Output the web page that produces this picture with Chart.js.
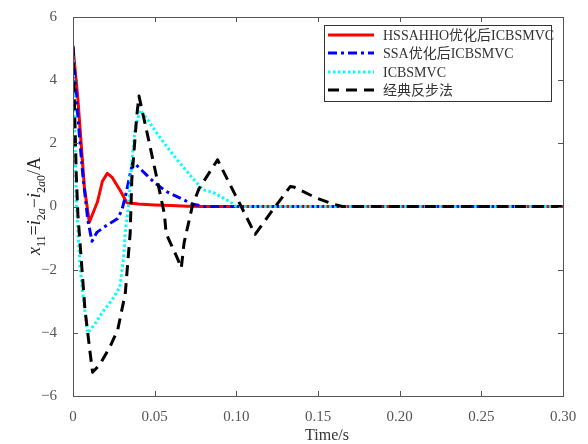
<!DOCTYPE html>
<html>
<head>
<meta charset="utf-8">
<script src="https://cdn.jsdelivr.net/npm/chart.js@4"></script>
<style>
  html, body { margin: 0; padding: 0; background: #fff; }
  #wrap { width: 588px; height: 444px; }
</style>
</head>
<body>
<div id="wrap"><canvas id="Grafica" width="588" height="444"></canvas></div>
<script>
// legend names
const seriesNames = ['HSSAHHO优化后ICBSMVC', 'SSA优化后ICBSMVC', 'ICBSMVC', '经典反步法'];

// HSSAHHO
const hssaT = [0, 0.003, 0.007, 0.010, 0.015, 0.018, 0.021, 0.024, 0.029, 0.033, 0.040, 0.050, 0.060, 0.070, 0.080, 0.30];
const hssaY = [5.05, 3.4, 0.6, -0.5, 0.15, 0.8, 1.05, 0.92, 0.5, 0.12, 0.08, 0.05, 0.03, 0.01, 0, 0];

// SSA
const ssaT = [0, 0.002, 0.004, 0.006, 0.009, 0.0116, 0.0146, 0.020, 0.0274, 0.030, 0.032, 0.0366, 0.040, 0.045, 0.050, 0.057, 0.065, 0.073, 0.080, 0.30];
const ssaY = [5.0, 3.5, 2.2, 1.0, -0.4, -1.1, -0.82, -0.62, -0.38, -0.1, 0.3, 1.42, 1.25, 1.0, 0.75, 0.48, 0.28, 0.08, 0, 0];

// ICBSMVC
const icT = [0, 0.001, 0.002, 0.0043, 0.0065, 0.009, 0.013, 0.018, 0.024, 0.0287, 0.031, 0.032, 0.034, 0.036, 0.038, 0.041, 0.045, 0.053, 0.0634, 0.0735, 0.0796, 0.0857, 0.098, 0.100, 0.30];
const icY = [4.8, 2.5, 0.2, -1.9, -3.0, -4.0, -3.75, -3.35, -2.95, -2.55, -1.6, -0.8, 0, 1.4, 2.45, 3.05, 2.8, 2.2, 1.5, 0.88, 0.53, 0.45, 0.09, 0, 0];

// 经典反步法
const bsT = [0, 0.001, 0.002, 0.003, 0.0073, 0.0104, 0.012, 0.0165, 0.0226, 0.0274, 0.032, 0.035, 0.036, 0.039, 0.0404, 0.0457, 0.051, 0.056, 0.057, 0.064, 0.0663, 0.068, 0.073, 0.077, 0.0885, 0.099, 0.103, 0.1115, 0.122, 0.133, 0.135, 0.149, 0.159, 0.165, 0.30];
const bsY = [5.1, 3.0, 1.0, -0.25, -3.25, -4.6, -5.25, -5.0, -4.45, -3.9, -2.75, -0.85, 0.85, 2.85, 3.5, 2.25, 0.98, -0.25, -0.85, -1.65, -1.95, -1.15, 0, 0.55, 1.48, 0.4, 0, -0.88, -0.13, 0.63, 0.62, 0.27, 0.08, 0, 0];

// ticks
const xTicks = [0, 0.05, 0.10, 0.15, 0.20, 0.25, 0.30];
const yTicks = [-6, -4, -2, 0, 2, 4, 6];

function pts(ts, ys) { return ts.map((t, i) => ({x: t, y: ys[i]})); }

const serif = '"Liberation Serif", "Times New Roman", "Noto Sans CJK SC", serif';

const boxPlugin = {
  id: 'boxPlugin',
  afterDraw(chart) {
    const c = chart.ctx, a = chart.chartArea;
    const xs = chart.scales.x, ys = chart.scales.y;
    c.save();
    // axes box
    c.strokeStyle = '#555';
    c.lineWidth = 1;
    c.strokeRect(a.left + 0.5, a.top + 0.5, a.right - a.left, a.bottom - a.top);
    // inward ticks
    c.beginPath();
    xTicks.forEach(v => {
      const px = Math.round(xs.getPixelForValue(v)) + 0.5;
      c.moveTo(px, a.bottom); c.lineTo(px, a.bottom - 5);
      c.moveTo(px, a.top); c.lineTo(px, a.top + 5);
    });
    yTicks.forEach(v => {
      const py = Math.round(ys.getPixelForValue(v)) + 0.5;
      c.moveTo(a.left, py); c.lineTo(a.left + 5, py);
      c.moveTo(a.right, py); c.lineTo(a.right - 5, py);
    });
    c.stroke();

    // legend
    const lx = 324, ly = 25, lw = 227, lh = 76;
    c.fillStyle = '#fff';
    c.fillRect(lx, ly, lw, lh);
    c.strokeStyle = '#333';
    c.strokeRect(lx + 0.5, ly + 0.5, lw, lh);
    const rows = [35, 53, 72, 90];
    chart.data.datasets.forEach((ds, i) => {
      const y = rows[i];
      c.beginPath();
      c.strokeStyle = ds.borderColor;
      c.lineWidth = ds.borderWidth;
      c.setLineDash(ds.borderDash || []);
      c.moveTo(328, y); c.lineTo(374, y);
      c.stroke();
      c.setLineDash([]);
      c.fillStyle = '#333';
      c.font = '14px ' + serif;
      c.textBaseline = 'middle';
      c.textAlign = 'left';
      c.fillText(seriesNames[i], 383, y + 1);
    });

    // x title
    c.fillStyle = '#333';
    c.font = '16px ' + serif;
    c.textAlign = 'center';
    c.textBaseline = 'middle';
    c.fillText('Time/s', 327, 436);

    // y title with subscripts
    const parts = [
      {t: 'x', it: true}, {t: '11', sub: true}, {t: '='}, {t: 'i', it: true},
      {t: '2', sub: true}, {t: 'a', sub: true, it: true}, {t: '−'}, {t: 'i', it: true},
      {t: '2', sub: true}, {t: 'a', sub: true, it: true}, {t: '0', sub: true}, {t: '/A'}
    ];
    const fontOf = p => (p.it ? 'italic ' : '') + (p.sub ? '12px ' : '18px ') + serif;
    let total = 0;
    parts.forEach(p => { c.font = fontOf(p); p.w = c.measureText(p.t).width; total += p.w; });
    c.translate(40, 206);
    c.rotate(-Math.PI / 2);
    c.textAlign = 'left';
    c.textBaseline = 'alphabetic';
    c.fillStyle = '#222';
    let x = -total / 2;
    parts.forEach(p => {
      c.font = fontOf(p);
      c.fillText(p.t, x, p.sub ? 5 : 0);
      x += p.w;
    });
    c.restore();
  }
};

var ctx = document.querySelector('#Grafica').getContext('2d');
var myChart = new Chart(ctx, {
  type: 'line',
  data: {
    datasets: [{
      label: seriesNames[0],
      data: pts(hssaT, hssaY),
      borderColor: '#ff0000',
      borderWidth: 3,
      order: 3
    }, {
      label: seriesNames[1],
      data: pts(ssaT, ssaY),
      borderColor: '#0000ff',
      borderWidth: 3,
      borderDash: [9, 4, 3, 4],
      order: 2
    }, {
      label: seriesNames[2],
      data: pts(icT, icY),
      borderColor: '#00ffff',
      borderWidth: 3,
      borderDash: [2.5, 2.5],
      order: 1
    }, {
      label: seriesNames[3],
      data: pts(bsT, bsY),
      borderColor: '#000000',
      borderWidth: 3,
      borderDash: [11, 7],
      order: 0
    }]
  },
  options: {
    responsive: false,
    animation: false,
    layout: { padding: { left: 0, top: 13, right: 25, bottom: 0 } },
    elements: { point: { radius: 0 }, line: { tension: 0, fill: false, borderJoinStyle: 'round' } },
    plugins: { legend: { display: false }, tooltip: { enabled: false } },
    scales: {
      x: {
        type: 'linear', min: 0, max: 0.3,
        afterBuildTicks: s => { s.ticks = xTicks.map(v => ({value: v})); },
        afterFit: s => { s.height = 48; },
        grid: { display: false },
        border: { display: false },
        ticks: {
          padding: 4, color: '#555', font: { family: serif, size: 15 },
          maxRotation: 0,
          callback: v => v === 0 ? '0' : v.toFixed(2)
        }
      },
      y: {
        type: 'linear', min: -6, max: 6,
        afterBuildTicks: s => { s.ticks = yTicks.map(v => ({value: v})); },
        afterFit: s => { s.width = 73; },
        grid: { display: false },
        border: { display: false },
        ticks: {
          padding: 8, color: '#555', font: { family: serif, size: 15 },
          callback: v => v < 0 ? '−' + Math.abs(v) : String(v)
        }
      }
    }
  },
  plugins: [boxPlugin]
});
</script>
</body>
</html>
